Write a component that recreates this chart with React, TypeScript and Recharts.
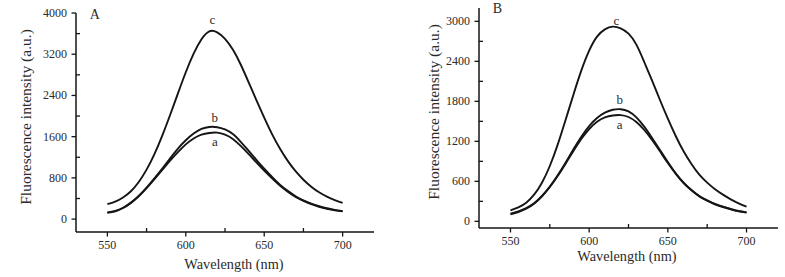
import React from "react";
import { LineChart, Line, XAxis, YAxis, ReferenceDot, Label } from "recharts";

// emission wavelengths (nm), shared by both panels
const WAVELENGTH = [
  550, 555, 560, 565, 570, 575, 580, 585, 590, 595, 600, 605, 610, 615, 620, 625,
  630, 635, 640, 645, 650, 655, 660, 665, 670, 675, 680, 685, 690, 695, 700,
];

// panel A intensities (a.u.)
const A_CURVE_A = [
  120, 150, 215, 315, 445, 600, 775, 955, 1135, 1300, 1450, 1565, 1640, 1672, 1678, 1640,
  1555, 1420, 1265, 1100, 940, 790, 650, 530, 430, 355, 290, 240, 200, 170, 150,
];
const A_CURVE_B = [
  130, 160, 220, 320, 450, 610, 790, 980, 1180, 1370, 1530, 1660, 1750, 1788, 1784, 1740,
  1650, 1500, 1330, 1150, 980, 820, 670, 550, 445, 365, 300, 250, 210, 180, 155,
];
const A_CURVE_C = [
  290, 340, 420, 540, 720, 960, 1260, 1620, 2020, 2440, 2850, 3210, 3490, 3645, 3625, 3500,
  3290, 3000, 2660, 2310, 1970, 1650, 1370, 1130, 930, 765, 630, 520, 435, 370, 315,
];

// panel B intensities (a.u.)
const B_CURVE_A = [
  105, 140, 190, 265, 375, 515, 680, 865, 1055, 1235, 1385, 1495, 1560, 1588, 1593, 1565,
  1490, 1370, 1220, 1050, 875, 715, 575, 465, 375, 310, 255, 215, 180, 150, 130,
];
const B_CURVE_B = [
  115, 150, 200, 270, 380, 520, 690, 880, 1080, 1270, 1430, 1550, 1630, 1673, 1682, 1650,
  1560, 1420, 1250, 1070, 890, 720, 580, 470, 380, 315, 260, 220, 185, 155, 135,
];
const B_CURVE_C = [
  165, 210, 280, 400, 580, 830, 1150, 1520, 1900, 2260, 2560, 2770, 2880, 2920, 2895, 2815,
  2650, 2390, 2110, 1820, 1540, 1280, 1050, 860, 700, 580, 480, 400, 330, 270, 220,
];

const X_TICKS = [550, 575, 600, 625, 650, 675, 700];
const X_MAJOR = [550, 600, 650, 700];
const A_Y_TICKS = [0, 400, 800, 1200, 1600, 2000, 2400, 2800, 3200, 3600, 4000];
const A_Y_MAJOR = [0, 800, 1600, 2400, 3200, 4000];
const B_Y_TICKS = [0, 300, 600, 900, 1200, 1500, 1800, 2100, 2400, 2700, 3000];
const B_Y_MAJOR = [0, 600, 1200, 1800, 2400, 3000];

const SERIF = "'Liberation Serif', 'Times New Roman', Times, 'DejaVu Serif', serif";
const INK = "#151515";
const TEXT = "#2a2a2a";
const textStyle = { fontFamily: SERIF };

const buildRows = (a: number[], b: number[], c: number[]) =>
  WAVELENGTH.map((wl, i) => ({ wl, a: a[i], b: b[i], c: c[i] }));

// major ticks point out with a label, minor ticks point into the plot
const makeXTick = (major: number[]) => (props: any) => {
  const { x, y, payload } = props;
  const v = payload.value;
  if (major.includes(v)) {
    return (
      <g>
        <line x1={x} x2={x} y1={y} y2={y + 4.5} stroke={INK} strokeWidth={1.3} />
        <text x={x} y={y + 13} textAnchor="middle" dominantBaseline="central"
          style={textStyle} fontSize={12} fill={TEXT}>{v}</text>
      </g>
    );
  }
  return <line x1={x} x2={x} y1={y} y2={y - 4} stroke={INK} strokeWidth={1.3} />;
};

const makeYTick = (major: number[]) => (props: any) => {
  const { x, y, payload } = props;
  const v = payload.value;
  if (major.includes(v)) {
    return (
      <g>
        <line x1={x - 4.5} x2={x} y1={y} y2={y} stroke={INK} strokeWidth={1.3} />
        <text x={x - 9} y={y} textAnchor="end" dominantBaseline="central"
          style={textStyle} fontSize={12} fill={TEXT}>{v}</text>
      </g>
    );
  }
  return <line x1={x} x2={x + 4} y1={y} y2={y} stroke={INK} strokeWidth={1.3} />;
};

interface PanelProps {
  letter: string;
  letterAt: [number, number];
  rows: { wl: number; a: number; b: number; c: number }[];
  yDomain: [number, number];
  yTicks: number[];
  yMajor: number[];
  left: number;
  margin: { top: number; right: number; bottom: number; left: number };
  xAxisHeight: number;
  yTitleX: number;
  yTitleDy: number;
  xTitleDx: number;
  xTitleY: number;
  curveLabels: { text: string; x: number; y: number }[];
}

function Panel(p: PanelProps) {
  const yTitle = (lp: any) => {
    const vb = lp.viewBox;
    const cx = vb.x + p.yTitleX;
    const cy = vb.y + vb.height / 2 + p.yTitleDy;
    return (
      <text x={cx} y={cy} transform={`rotate(-90 ${cx} ${cy})`} textAnchor="middle"
        dominantBaseline="central" style={textStyle} fontSize={15.5} fill={TEXT}>
        Fluorescence intensity (a.u.)
      </text>
    );
  };
  const xTitle = (lp: any) => {
    const vb = lp.viewBox;
    const cx = vb.x + vb.width / 2 + p.xTitleDx;
    const cy = vb.y + p.xTitleY;
    return (
      <text x={cx} y={cy} textAnchor="middle" dominantBaseline="central"
        style={textStyle} fontSize={14.3} fill={TEXT}>
        Wavelength (nm)
      </text>
    );
  };
  const mark = (value: string, size: number) => (lp: any) => {
    const vb = lp.viewBox;
    return (
      <text x={vb.x + vb.width / 2} y={vb.y + vb.height / 2} textAnchor="middle"
        dominantBaseline="central" style={textStyle} fontSize={size} fill={TEXT}>
        {value}
      </text>
    );
  };

  return (
    <div style={{ position: "absolute", left: p.left, top: 0, fontFamily: SERIF }}>
      <LineChart width={390} height={277} data={p.rows} margin={p.margin}>
        <XAxis dataKey="wl" type="number" domain={[530, 720]} ticks={X_TICKS} interval={0}
          height={p.xAxisHeight} tickSize={0} tickMargin={0} tickLine={false}
          tick={makeXTick(X_MAJOR)} axisLine={{ stroke: INK, strokeWidth: 1.5 }}>
          <Label content={xTitle} />
        </XAxis>
        <YAxis type="number" domain={p.yDomain} ticks={p.yTicks} interval={0} width={60}
          tickSize={0} tickMargin={0} tickLine={false} tick={makeYTick(p.yMajor)}
          axisLine={{ stroke: INK, strokeWidth: 1.5 }}>
          <Label content={yTitle} />
        </YAxis>
        <Line type="natural" dataKey="a" stroke={INK} strokeWidth={1.9} dot={false} isAnimationActive={false} />
        <Line type="natural" dataKey="b" stroke={INK} strokeWidth={1.9} dot={false} isAnimationActive={false} />
        <Line type="natural" dataKey="c" stroke={INK} strokeWidth={1.9} dot={false} isAnimationActive={false} />
        {p.curveLabels.map((l) => (
          <ReferenceDot key={l.text} x={l.x} y={l.y} r={1} fillOpacity={0} strokeOpacity={0}>
            <Label content={mark(l.text, 13)} />
          </ReferenceDot>
        ))}
        <ReferenceDot x={p.letterAt[0]} y={p.letterAt[1]} r={1} fillOpacity={0} strokeOpacity={0}>
          <Label content={mark(p.letter, 14)} />
        </ReferenceDot>
      </LineChart>
    </div>
  );
}

export default function App() {
  return (
    <div style={{ position: "absolute", left: 0, top: 0, width: 785, height: 277, background: "#fff" }}>
      <Panel
        letter="A"
        letterAt={[542, 3980]}
        rows={buildRows(A_CURVE_A, A_CURVE_B, A_CURVE_C)}
        yDomain={[-250, 4000]}
        yTicks={A_Y_TICKS}
        yMajor={A_Y_MAJOR}
        left={0}
        margin={{ top: 13, right: 16, bottom: 0, left: 16 }}
        xAxisHeight={45}
        yTitleX={9}
        yTitleDy={-5.5}
        xTitleDx={9}
        xTitleY={32}
        curveLabels={[
          { text: "c", x: 617, y: 3870 },
          { text: "b", x: 618.5, y: 1980 },
          { text: "a", x: 618.5, y: 1500 },
        ]}
      />
      <Panel
        letter="B"
        letterAt={[541.7, 3190]}
        rows={buildRows(B_CURVE_A, B_CURVE_B, B_CURVE_C)}
        yDomain={[-100, 3200]}
        yTicks={B_Y_TICKS}
        yMajor={B_Y_MAJOR}
        left={395}
        margin={{ top: 8, right: 7, bottom: 0, left: 24 }}
        xAxisHeight={49}
        yTitleX={14}
        yTitleDy={-6}
        xTitleDx={-1.5}
        xTitleY={28}
        curveLabels={[
          { text: "c", x: 617.3, y: 3015 },
          { text: "b", x: 619.4, y: 1835 },
          { text: "a", x: 619.4, y: 1458 },
        ]}
      />
    </div>
  );
}
